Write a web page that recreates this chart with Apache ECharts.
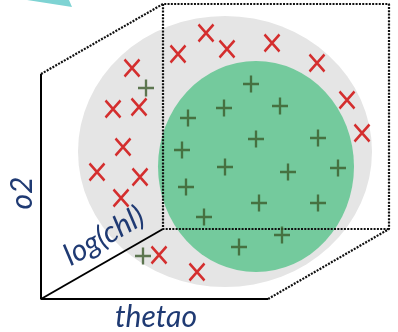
<!DOCTYPE html>
<html>
<head>
<meta charset="utf-8">
<script src="https://cdn.jsdelivr.net/npm/echarts@6/dist/echarts.min.js"></script>
<style>
    html, body {margin: 0; padding: 0; background: #fff;}
    #chart {width: 398px; height: 332px;}
</style>
</head>
<body>
<div id="chart"></div>
<script>
// picture space: x runs 0..398 left to right, y runs 0..332 top to bottom
const cross_x = [206, 178, 227, 272, 317, 132, 347, 113, 139, 362, 123, 97, 140, 121, 159, 197];
const cross_y = [33, 54, 49, 43, 63, 68, 100, 109, 107, 133, 147, 172, 177, 198, 255, 272];
const plus_x = [146, 188, 251, 224, 280, 256, 318, 182, 225, 288, 338, 186, 259, 318, 204, 282, 239, 143];
const plus_y = [88, 118, 84, 108, 106, 139, 138, 150, 167, 172, 168, 187, 203, 203, 217, 235, 247, 256];

// [cx, cy, rx, ry]
const outer_disc = [225, 151.5, 147, 135.5];
const inner_disc = [256, 166.5, 98, 105.5];

const box_solid = [
    [[41, 74], [41, 299], [268, 299]],
    [[41, 299], [163, 229]]
];
const box_dotted = [
    [[41, 74], [163, 4], [389, 4], [389, 229], [268, 299]],
    [[163, 4], [163, 229], [389, 229]]
];
const arrow_tip = [[27, 0], [69, 0], [72, 7]];

const axis_names = ['o2', 'log(chl)', 'thetao'];

function disc_series(disc, color, z) {
    return {
        type: 'custom', z: z, silent: true,
        data: [disc],
        renderItem: function (params, api) {
            let c = api.coord([api.value(0), api.value(1)]);
            let s = api.size([api.value(2), api.value(3)]);
            return {
                type: 'circle', x: c[0], y: c[1], scaleX: s[0] / s[1],
                shape: {cx: 0, cy: 0, r: s[1]},
                style: {fill: color}
            };
        }
    };
}

let series = [];
series.push(disc_series(outer_disc, '#e5e5e5', 1));
series.push(disc_series(inner_disc, '#74ca9d', 2));

series.push({
    type: 'custom', z: 2, silent: true,
    data: [arrow_tip[0]],
    renderItem: function (params, api) {
        return {
            type: 'polygon',
            shape: {points: arrow_tip.map(p => api.coord(p))},
            style: {fill: '#7ed3d3'}
        };
    }
});

box_solid.forEach(seg => series.push({
    type: 'line', z: 3, symbol: 'none', silent: true, data: seg,
    lineStyle: {color: '#000', width: 2}
}));
box_dotted.forEach(seg => series.push({
    type: 'line', z: 3, symbol: 'none', silent: true, data: seg,
    lineStyle: {color: '#111', width: 2.2, type: [2, 1.3]}
}));

series.push({
    type: 'scatter', z: 4, silent: true,
    data: cross_x.map((x, i) => [x, cross_y[i]]),
    symbol: 'path://M0,0L15,17M15,0L0,17', symbolSize: [15, 17],
    itemStyle: {color: 'rgba(0,0,0,0)', borderColor: '#d00000', borderWidth: 2.6}
});
series.push({
    type: 'scatter', z: 4, silent: true,
    data: plus_x.map((x, i) => [x, plus_y[i]]),
    symbol: 'path://M8,0L8,17M0,8.5L16,8.5', symbolSize: [16, 17],
    itemStyle: {color: 'rgba(0,0,0,0)', borderColor: '#3b5a2b', borderWidth: 2.4}
});

const label_font = 'italic 30px Lato';
const label_color = '#1f3a73';

let option = {
    animation: false,
    grid: {left: 0, right: 0, top: 0, bottom: 0},
    xAxis: {type: 'value', min: 0, max: 398, show: false},
    yAxis: {type: 'value', min: 0, max: 332, inverse: true, show: false},
    series: series,
    graphic: [{
        type: 'text', x: 22, y: 193, rotation: Math.PI / 2, z: 10,
        style: {text: axis_names[0], font: label_font, fill: label_color, align: 'center', verticalAlign: 'middle', textAlign: 'center', textVerticalAlign: 'middle'}
    }, {
        type: 'text', x: 104, y: 236, rotation: Math.PI / 6, z: 10,
        style: {text: axis_names[1], font: label_font, fill: label_color, align: 'center', verticalAlign: 'middle', textAlign: 'center', textVerticalAlign: 'middle'}
    }, {
        type: 'text', x: 156, y: 317, z: 10,
        style: {text: axis_names[2], font: label_font, fill: label_color, align: 'center', verticalAlign: 'middle', textAlign: 'center', textVerticalAlign: 'middle'}
    }]
};

let my_chart = echarts.init(document.getElementById('chart'));
my_chart.setOption(option);
</script>
</body>
</html>
